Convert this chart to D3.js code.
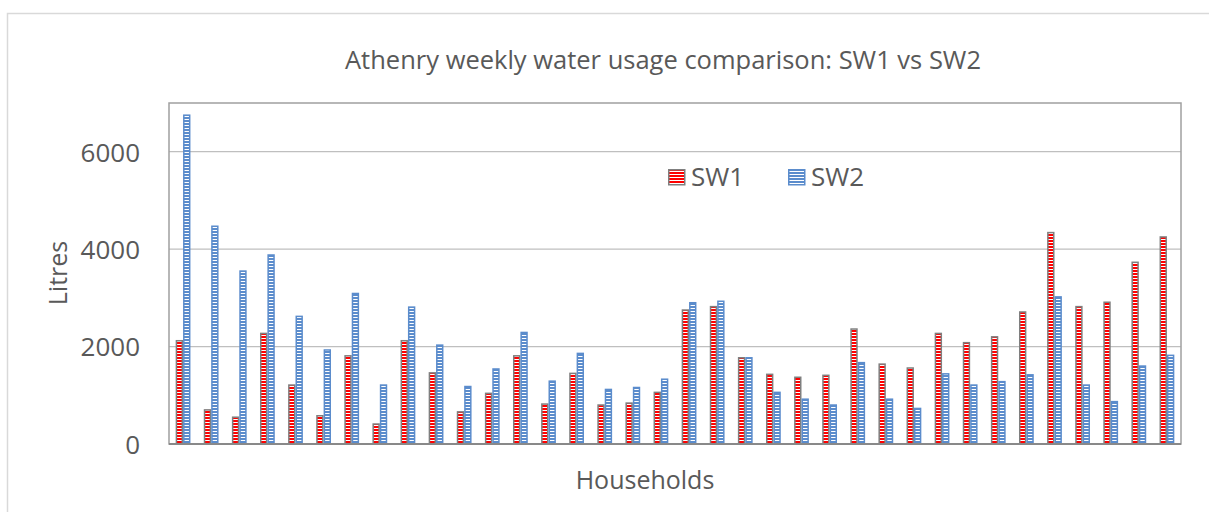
<!DOCTYPE html>
<html>
<head>
<meta charset="utf-8">
<script src="https://cdn.jsdelivr.net/npm/d3@7/dist/d3.min.js"></script>
<style>
  html, body { margin: 0; padding: 0; background: #fff; }
  svg { display: block; }
  text { font-family: "Open Sans", "Noto Sans", sans-serif; fill: #595959; }
</style>
</head>
<body>
<svg id="chart" width="1209" height="512"></svg>
<script>
// Weekly water usage per household, litres
const households = [1, 2, 3, 4, 5, 6, 7, 8, 9, 10, 11, 12, 13, 14, 15, 16, 17, 18,
                    19, 20, 21, 22, 23, 24, 25, 26, 27, 28, 29, 30, 31, 32, 33, 34, 35, 36];
const seriesNames = ["SW1", "SW2"];
const sw1 = [2120, 700, 550, 2270, 1210, 580, 1810, 410, 2120, 1460, 660, 1040,
             1810, 820, 1450, 800, 840, 1060, 2750, 2820, 1770, 1430, 1370, 1410,
             2360, 1640, 1560, 2270, 2080, 2200, 2710, 4340, 2820, 2910, 3730, 4250];
const sw2 = [6750, 4470, 3550, 3880, 2620, 1930, 3090, 1210, 2810, 2030, 1180, 1540,
             2290, 1290, 1860, 1120, 1160, 1330, 2900, 2930, 1770, 1060, 920, 800,
             1670, 920, 730, 1440, 1210, 1280, 1420, 3020, 1210, 870, 1600, 1820];
const yTicks = [0, 2000, 4000, 6000];

const rows = households.map((h, i) => ({ h, SW1: sw1[i], SW2: sw2[i] }));

const svg = d3.select("#chart");
const plot = { left: 169, right: 1181, top: 103, bottom: 444 };

// Chart area frame
svg.append("rect")
  .attr("x", 7.5).attr("y", 13.5)
  .attr("width", 1220).attr("height", 520)
  .attr("fill", "#fff").attr("stroke", "#d9d9d9").attr("stroke-width", 1.5);

// Striped fills for the two series
const defs = svg.append("defs");
const pat1 = defs.append("pattern").attr("id", "pSW1")
  .attr("patternUnits", "userSpaceOnUse").attr("width", 8).attr("height", 3);
pat1.append("rect").attr("width", 8).attr("height", 3).attr("fill", "#ffffff");
pat1.append("rect").attr("width", 8).attr("height", 2).attr("fill", "#ff0000");
const pat2 = defs.append("pattern").attr("id", "pSW2")
  .attr("patternUnits", "userSpaceOnUse").attr("width", 8).attr("height", 3);
pat2.append("rect").attr("width", 8).attr("height", 3).attr("fill", "#ffffff");
pat2.append("rect").attr("width", 8).attr("height", 2).attr("fill", "#5b8ccc");

const fills = { SW1: "url(#pSW1)", SW2: "url(#pSW2)" };
const strokes = { SW1: "#7f7f7f", SW2: "#5b8ccc" };

const x0 = d3.scaleBand().domain(households)
  .range([plot.left, plot.right]).paddingInner(0.474).paddingOuter(0.237);
const x1 = d3.scaleBand().domain(seriesNames).range([0, x0.bandwidth()]);
const y = d3.scaleLinear().domain([0, 7000]).range([plot.bottom, plot.top]);

// Gridlines
svg.append("g")
  .selectAll("line").data(yTicks.filter(t => t > 0)).join("line")
  .attr("x1", plot.left).attr("x2", plot.right)
  .attr("y1", d => y(d)).attr("y2", d => y(d))
  .attr("stroke", "#bfbfbf").attr("stroke-width", 1.3);

// Plot border
svg.append("rect")
  .attr("x", plot.left).attr("y", plot.top)
  .attr("width", plot.right - plot.left).attr("height", plot.bottom - plot.top)
  .attr("fill", "none").attr("stroke", "#a0a0a0").attr("stroke-width", 1.5);

// Bars
const groups = svg.append("g").selectAll("g").data(rows).join("g")
  .attr("transform", d => `translate(${x0(d.h)},0)`);
groups.selectAll("rect")
  .data(d => seriesNames.map(k => ({ k, v: d[k] })))
  .join("rect")
  .attr("x", d => x1(d.k) + 0.75)
  .attr("width", x1.bandwidth() - 1.5)
  .attr("y", d => y(d.v))
  .attr("height", d => y(0) - y(d.v))
  .attr("fill", d => fills[d.k])
  .attr("stroke", d => strokes[d.k])
  .attr("stroke-width", 1.5);

// Category axis line
svg.append("line")
  .attr("x1", plot.left).attr("x2", plot.right)
  .attr("y1", plot.bottom).attr("y2", plot.bottom)
  .attr("stroke", "#898989").attr("stroke-width", 2);

// Value axis
const yAxis = d3.axisLeft(y).tickValues(yTicks).tickSize(0).tickPadding(0).tickFormat(d3.format("d"));
const ya = svg.append("g").attr("transform", `translate(${plot.left - 29},0)`).call(yAxis);
ya.select(".domain").remove();
ya.selectAll("text")
  .style("font-size", "26px").attr("fill", "#595959").attr("dy", "0.36em")
  .style("font-family", "'Open Sans', sans-serif");

// Titles
svg.append("text")
  .attr("x", 663).attr("y", 69)
  .attr("text-anchor", "middle")
  .style("font-size", "25.5px")
  .text("Athenry weekly water usage comparison: SW1 vs SW2");

svg.append("text")
  .attr("transform", "translate(67,273) rotate(-90)")
  .attr("text-anchor", "middle")
  .style("font-size", "25px")
  .text("Litres");

svg.append("text")
  .attr("x", 645).attr("y", 489)
  .attr("text-anchor", "middle")
  .style("font-size", "25px")
  .text("Households");

// Legend
const legendX = [668, 788];
const leg = svg.append("g").selectAll("g").data(seriesNames).join("g")
  .attr("transform", (d, i) => `translate(${legendX[i]},169)`);
leg.append("rect")
  .attr("x", 0.75).attr("y", 0.75).attr("width", 16).attr("height", 15)
  .attr("fill", d => fills[d]).attr("stroke", d => strokes[d]).attr("stroke-width", 1.5);
leg.append("text")
  .attr("x", 23).attr("y", 17)
  .style("font-size", "26px")
  .text(d => d);
</script>
</body>
</html>
